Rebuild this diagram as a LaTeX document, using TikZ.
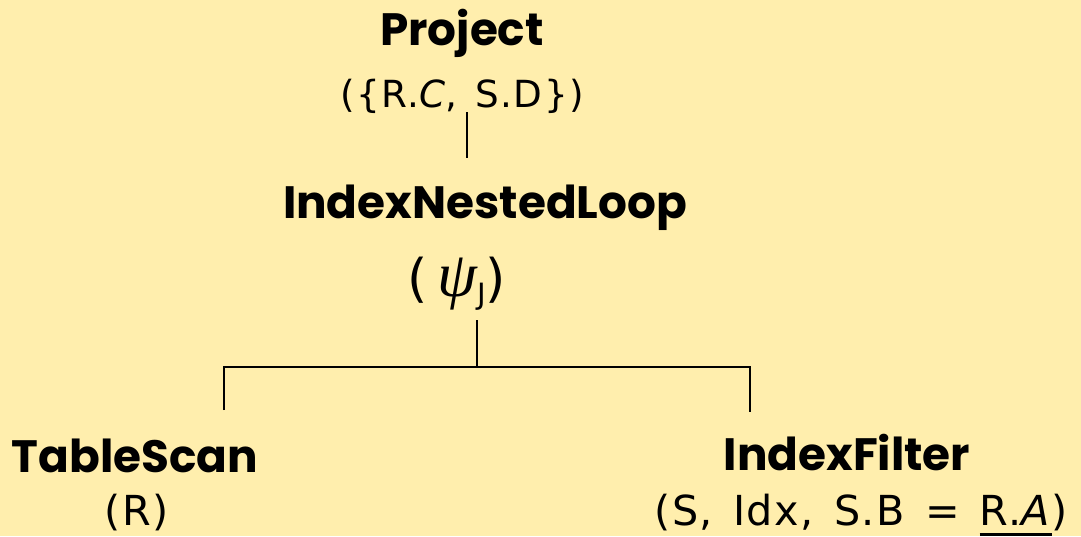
\documentclass[tikz,border=0pt]{standalone}
\usepackage{fontspec}
\setmainfont{Poppins}
\newfontfamily\argfont[LetterSpace=4,WordSpace=1.35]{DejaVu Sans}
\newfontfamily\subfont{DejaVu Sans}
\newfontfamily\psifont{Liberation Serif}
\definecolor{paper}{RGB}{255,238,173}
\newcommand\thickul[1]{\setbox0\hbox{#1}\rlap{\rule[-8pt]{\wd0}{1.8pt}}\box0}
\begin{document}
\begin{tikzpicture}[x=0.75pt,y=-0.75pt,
  op/.style={anchor=base,inner sep=0pt,font=\fontsize{34}{40}\selectfont\bfseries},
  arg/.style={anchor=base,inner sep=0pt,font=\argfont\fontsize{28}{32}\selectfont},
  lowarg/.style={arg,font=\argfont\fontsize{31}{36}\selectfont},
  edge/.style={line width=2pt}]
\useasboundingbox (0,0) rectangle (1081,536);
\fill[paper] (0,0) rectangle (1081,536);

% operator tree
\node[op]  (proj)    at (462,45)  {Project};
\node[arg] (projarg) at (462,107) {(\{R.\textit{C}, S.D\})};
\node[op]  (inl)     at (485,218) {IndexNestedLoop};
\node[arg,font=\subfont\fontsize{39}{42}\selectfont] (psi) at (457,296)
  {(\hspace{7pt}{\psifont\itshape\fontsize{48}{50}\selectfont ψ}\raisebox{-6pt}{\subfont\fontsize{22}{24}\selectfont J})};
\node[op]     (ts)     at (135,472) {TableScan};
\node[lowarg] (tsarg)  at (137,525) {(R)};
\node[op]     (ifl)    at (847,470) {IndexFilter};
\node[lowarg] (iflarg) at (861,525) {(S, Idx, S.B = \thickul{R.\textit{A}})};

% connectors
\coordinate (p1) at (467,112);
\coordinate (p2) at (467,158);
\coordinate (j1) at (477,320);
\coordinate (j2) at (477,367);
\coordinate (jl) at (224,367);
\coordinate (jr) at (750,367);
\coordinate (tl) at (224,410);
\coordinate (tr) at (750,412);
\draw[edge] (p1) -- (p2);
\draw[edge] (j1) -- (j2);
\draw[edge] (tl) -- (jl) -- (jr) -- (tr);
\end{tikzpicture}
\end{document}
